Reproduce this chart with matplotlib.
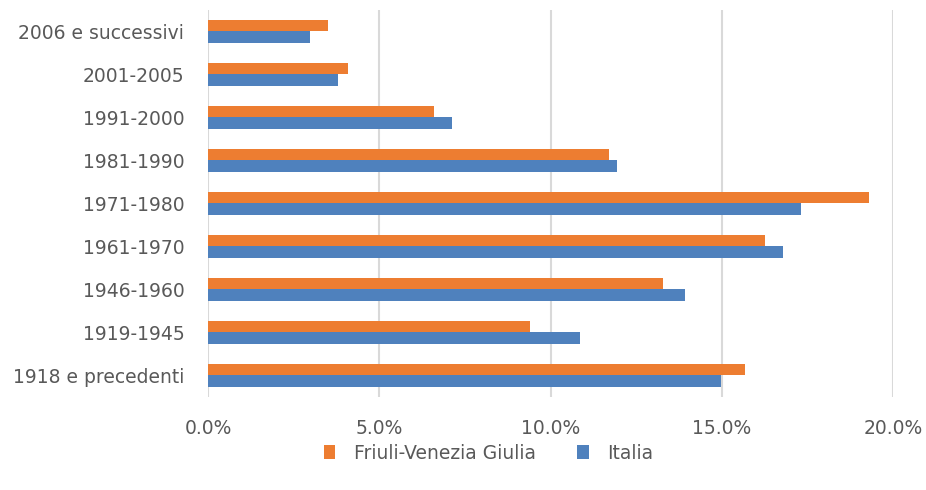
import numpy as np
import matplotlib.pyplot as plt
from matplotlib.ticker import FuncFormatter, MultipleLocator

# Data (share of buildings by construction period)
categories = ["2006 e successivi", "2001-2005", "1991-2000", "1981-1990",
              "1971-1980", "1961-1970", "1946-1960", "1919-1945",
              "1918 e precedenti"]
fvg = [3.50, 4.08, 6.60, 11.72, 19.30, 16.27, 13.29, 9.39, 15.69]
italia = [2.97, 3.79, 7.11, 11.95, 17.32, 16.79, 13.94, 10.85, 14.99]

plt.rcParams['font.family'] = ['DejaVu Sans']

fig = plt.figure(figsize=(9.26, 4.9), dpi=100)
ax = fig.add_axes([0.2246, 0.19, 0.7398, 0.7896])

y = np.arange(len(categories))
h = 0.27
ax.barh(y - h / 2, np.array(fvg) / 100, height=h, color='#ED7D31',
        label='Friuli-Venezia Giulia', zorder=3)
ax.barh(y + h / 2, np.array(italia) / 100, height=h, color='#4F81BD',
        label='Italia', zorder=3)

ax.set_xlim(0, 0.2)
ax.set_ylim(len(categories) - 0.5, -0.5)
ax.xaxis.set_major_locator(MultipleLocator(0.05))
ax.xaxis.set_major_formatter(FuncFormatter(lambda v, p: f"{v * 100:.1f}%"))
ax.set_yticks(y)
ax.set_yticklabels(categories)

ax.grid(axis='x', color='#D9D9D9', linewidth=1.5, zorder=0)
for s in ax.spines.values():
    s.set_visible(False)
ax.tick_params(axis='both', length=0, labelsize=13.5, colors='#595959')
ax.tick_params(axis='x', pad=16)
ax.tick_params(axis='y', pad=17)

ax.legend(loc='center', bbox_to_anchor=(0.41, -0.145), ncol=2,
          frameon=False, fontsize=13.5, labelcolor='#595959',
          handlelength=0.6, handleheight=0.8, columnspacing=2.2,
          handletextpad=1.0)

fig.savefig('out.png', dpi=100)
